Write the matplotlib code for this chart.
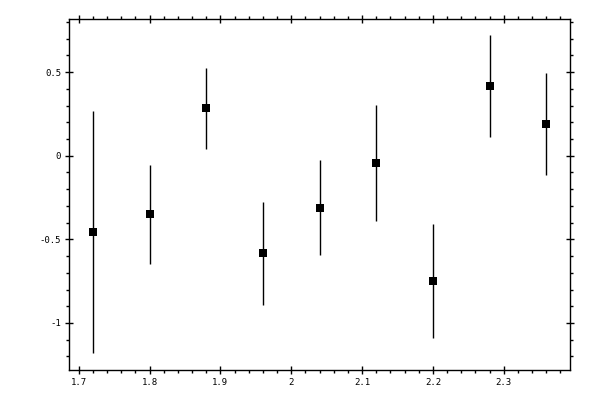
import matplotlib

matplotlib.use("Agg")
import matplotlib.pyplot as plt
from matplotlib.ticker import MultipleLocator, FuncFormatter

# values
x_vals = [1.72, 1.80, 1.88, 1.96, 2.04, 2.12, 2.20, 2.28, 2.36]
y_vals = [-0.457, -0.349, 0.286, -0.583, -0.313, -0.044, -0.750, 0.417, 0.190]
y_top = [0.265, -0.058, 0.525, -0.274, -0.026, 0.304, -0.409, 0.723, 0.495]
y_bot = [-1.178, -0.649, 0.040, -0.894, -0.595, -0.391, -1.092, 0.112, -0.116]

err_lo = [y - b for y, b in zip(y_vals, y_bot)]
err_hi = [t - y for y, t in zip(y_vals, y_top)]

fig = plt.figure(figsize=(6, 4), dpi=100)
ax = fig.add_axes([0.1158, 0.075, 0.8347, 0.877])

ax.errorbar(x_vals, y_vals, yerr=[err_lo, err_hi], fmt="s", color="black",
            ecolor="black", elinewidth=1.0, capsize=2.2, capthick=1.0,
            markersize=5.2, markeredgewidth=0)

ax.set_xlim(1.687, 2.394)
ax.set_ylim(-1.281, 0.816)

ax.xaxis.set_major_locator(MultipleLocator(0.1))
ax.xaxis.set_minor_locator(MultipleLocator(0.02))
ax.yaxis.set_major_locator(MultipleLocator(0.5))
ax.yaxis.set_minor_locator(MultipleLocator(0.1))


def fmt(v, pos):
    s = f"{v:.2f}".rstrip("0").rstrip(".")
    return "0" if s in ("-0", "0") else s


ax.xaxis.set_major_formatter(FuncFormatter(fmt))
ax.yaxis.set_major_formatter(FuncFormatter(fmt))

for sp in ax.spines.values():
    sp.set_linewidth(1.0)

ax.tick_params(which="major", direction="inout", length=6, width=1.0,
               top=True, right=True, labelsize=6.5, pad=3)
ax.tick_params(which="minor", direction="out", length=2.2, width=1.0,
               top=True, right=True)
for lab in ax.get_xticklabels() + ax.get_yticklabels():
    lab.set_family("DejaVu Sans Mono")

fig.savefig("out.png", dpi=100)
